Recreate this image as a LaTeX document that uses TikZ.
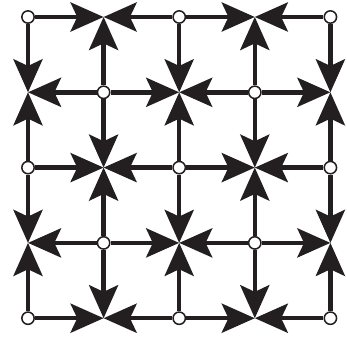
\documentclass[tikz,border=0pt]{standalone}
\usepackage{tikz}
\usetikzlibrary{arrows.meta}
\definecolor{ink}{HTML}{231F20}

\begin{document}
\begin{tikzpicture}[x=0.03cm, y=0.03cm,
    source/.style={circle, draw=ink, fill=white, line width=1.3pt,
        inner sep=0pt, minimum size=0.37cm},
    flow/.style={draw=ink, line width=3.8pt,
        -{Stealth[length=0.99cm, width=0.87cm, inset=0.2cm]}}]
\useasboundingbox (0,0) rectangle (347,336);

% Grid points: white circles where i+j is even, sinks elsewhere
\foreach \i in {0,...,4} {
    \foreach \j in {0,...,4} {
        \pgfmathtruncatemacro\odd{mod(\i+\j,2)}
        \ifnum\odd=0
            \node[source] (p-\i-\j) at (28+75.6*\i, 319-75.3*\j) {};
        \else
            \coordinate (p-\i-\j) at (28+75.6*\i, 319-75.3*\j);
        \fi
    }
}

% Horizontal connectors, always from circle to sink
\foreach \i in {0,...,3} {
    \foreach \j in {0,...,4} {
        \pgfmathtruncatemacro\k{\i+1}
        \pgfmathtruncatemacro\odd{mod(\i+\j,2)}
        \ifnum\odd=0
            \draw[flow] (p-\i-\j) -- (p-\k-\j);
        \else
            \draw[flow] (p-\k-\j) -- (p-\i-\j);
        \fi
    }
}

% Vertical connectors
\foreach \i in {0,...,4} {
    \foreach \j in {0,...,3} {
        \pgfmathtruncatemacro\k{\j+1}
        \pgfmathtruncatemacro\odd{mod(\i+\j,2)}
        \ifnum\odd=0
            \draw[flow] (p-\i-\j) -- (p-\i-\k);
        \else
            \draw[flow] (p-\i-\k) -- (p-\i-\j);
        \fi
    }
}
\end{tikzpicture}
\end{document}
